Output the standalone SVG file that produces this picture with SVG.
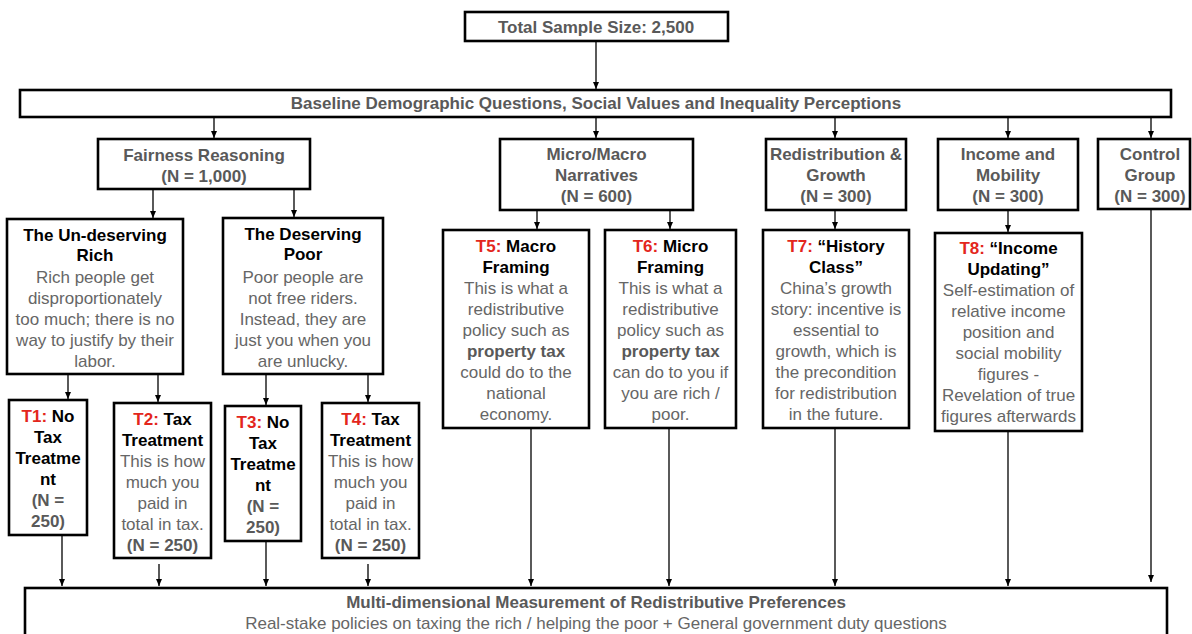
<svg xmlns="http://www.w3.org/2000/svg" width="1192" height="634" viewBox="0 0 1192 634">
<style>
.box{fill:#fff;stroke:#000;stroke-width:2.6}
text{font-family:"Liberation Sans",Arial,Helvetica,sans-serif;font-size:17px;text-anchor:middle}
.g{fill:#666666}
.gb{fill:#595959;font-weight:bold}
.b{fill:#000;font-weight:bold}
.r{fill:#e3261c;font-weight:bold}
.con line{stroke:#000;stroke-width:1.3;marker-end:url(#ah)}
</style>
<defs>
<marker id="ah" markerUnits="userSpaceOnUse" markerWidth="8" markerHeight="6" refX="7" refY="3" orient="auto">
<path d="M0,0 L7,3 L0,6 z" fill="#000"/>
</marker>
</defs>
<rect width="1192" height="634" fill="#fff"/>

<g id="total">
<rect class="box" x="465" y="12" width="263" height="29"/>
<text class="gb" x="596" y="33">Total Sample Size: 2,500</text>
</g>

<g id="baseline">
<rect class="box" x="20" y="90" width="1151" height="27"/>
<text class="gb" x="596" y="109">Baseline Demographic Questions, Social Values and Inequality Perceptions</text>
</g>

<g id="fairness">
<rect class="box" x="98" y="139" width="212" height="50"/>
<text class="gb" x="204" y="161">Fairness Reasoning</text>
<text class="gb" x="204" y="182">(N = 1,000)</text>
</g>

<g id="micromacro">
<rect class="box" x="500" y="139" width="193" height="71"/>
<text class="gb" x="596.5" y="160">Micro/Macro</text>
<text class="gb" x="596.5" y="181">Narratives</text>
<text class="gb" x="596.5" y="202">(N = 600)</text>
</g>

<g id="redistribution">
<rect class="box" x="766" y="139" width="140" height="71"/>
<text class="gb" x="836" y="160">Redistribution &amp;</text>
<text class="gb" x="836" y="181">Growth</text>
<text class="gb" x="836" y="202">(N = 300)</text>
</g>

<g id="income">
<rect class="box" x="938" y="139" width="140" height="71"/>
<text class="gb" x="1008" y="160">Income and</text>
<text class="gb" x="1008" y="181">Mobility</text>
<text class="gb" x="1008" y="202">(N = 300)</text>
</g>

<g id="control">
<rect class="box" x="1098" y="139" width="92" height="70"/>
<text class="gb" x="1150" y="160">Control</text>
<text class="gb" x="1150" y="181">Group</text>
<text class="gb" x="1150" y="202">(N = 300)</text>
</g>

<g id="undeserving">
<rect class="box" x="7" y="219" width="176" height="155"/>
<text class="b" x="95" y="241">The Un-deserving</text>
<text class="b" x="95" y="261">Rich</text>
<text class="g" x="95" y="283">Rich people get</text>
<text class="g" x="95" y="304">disproportionately</text>
<text class="g" x="95" y="325">too much; there is no</text>
<text class="g" x="95" y="346">way to justify by their</text>
<text class="g" x="95" y="367">labor.</text>
</g>

<g id="deservingpoor">
<rect class="box" x="223" y="218" width="160" height="156"/>
<text class="b" x="303" y="240">The Deserving</text>
<text class="b" x="303" y="260">Poor</text>
<text class="g" x="303" y="283">Poor people are</text>
<text class="g" x="303" y="304">not free riders.</text>
<text class="g" x="303" y="325">Instead, they are</text>
<text class="g" x="303" y="346">just you when you</text>
<text class="g" x="303" y="367">are unlucky.</text>
</g>

<g id="t1">
<rect class="box" x="9" y="400" width="78" height="135"/>
<text class="b" x="48" y="422"><tspan class="r">T1:</tspan> No</text>
<text class="b" x="48" y="443">Tax</text>
<text class="b" x="48" y="464">Treatme</text>
<text class="b" x="48" y="485">nt</text>
<text class="gb" x="48" y="506">(N =</text>
<text class="gb" x="48" y="527">250)</text>
</g>

<g id="t2">
<rect class="box" x="114" y="403" width="97" height="155"/>
<text class="b" x="162.5" y="425"><tspan class="r">T2:</tspan> Tax</text>
<text class="b" x="162.5" y="446">Treatment</text>
<text class="g" x="162.5" y="467">This is how</text>
<text class="g" x="162.5" y="488">much you</text>
<text class="g" x="162.5" y="509">paid in</text>
<text class="g" x="162.5" y="530">total in tax.</text>
<text class="gb" x="162.5" y="551">(N = 250)</text>
</g>

<g id="t3">
<rect class="box" x="225" y="406" width="76" height="135"/>
<text class="b" x="263" y="428"><tspan class="r">T3:</tspan> No</text>
<text class="b" x="263" y="449">Tax</text>
<text class="b" x="263" y="470">Treatme</text>
<text class="b" x="263" y="491">nt</text>
<text class="gb" x="263" y="512">(N =</text>
<text class="gb" x="263" y="533">250)</text>
</g>

<g id="t4">
<rect class="box" x="322" y="403" width="97" height="155"/>
<text class="b" x="370.5" y="425"><tspan class="r">T4:</tspan> Tax</text>
<text class="b" x="370.5" y="446">Treatment</text>
<text class="g" x="370.5" y="467">This is how</text>
<text class="g" x="370.5" y="488">much you</text>
<text class="g" x="370.5" y="509">paid in</text>
<text class="g" x="370.5" y="530">total in tax.</text>
<text class="gb" x="370.5" y="551">(N = 250)</text>
</g>

<g id="t5">
<rect class="box" x="443" y="230" width="146" height="198"/>
<text class="b" x="516" y="252"><tspan class="r">T5:</tspan> Macro</text>
<text class="b" x="516" y="273">Framing</text>
<text class="g" x="516" y="294">This is what a</text>
<text class="g" x="516" y="315">redistributive</text>
<text class="g" x="516" y="336">policy such as</text>
<text class="gb" x="516" y="357">property tax</text>
<text class="g" x="516" y="378">could do to the</text>
<text class="g" x="516" y="399">national</text>
<text class="g" x="516" y="420">economy.</text>
</g>

<g id="t6">
<rect class="box" x="605" y="230" width="131" height="198"/>
<text class="b" x="670.5" y="252"><tspan class="r">T6:</tspan> Micro</text>
<text class="b" x="670.5" y="273">Framing</text>
<text class="g" x="670.5" y="294">This is what a</text>
<text class="g" x="670.5" y="315">redistributive</text>
<text class="g" x="670.5" y="336">policy such as</text>
<text class="gb" x="670.5" y="357">property tax</text>
<text class="g" x="670.5" y="378">can do to you if</text>
<text class="g" x="670.5" y="399">you are rich /</text>
<text class="g" x="670.5" y="420">poor.</text>
</g>

<g id="t7">
<rect class="box" x="763" y="230" width="146" height="198"/>
<text class="b" x="836" y="252"><tspan class="r">T7:</tspan> “History</text>
<text class="b" x="836" y="273">Class”</text>
<text class="g" x="836" y="294">China’s growth</text>
<text class="g" x="836" y="315">story: incentive is</text>
<text class="g" x="836" y="336">essential to</text>
<text class="g" x="836" y="357">growth, which is</text>
<text class="g" x="836" y="378">the precondition</text>
<text class="g" x="836" y="399">for redistribution</text>
<text class="g" x="836" y="420">in the future.</text>
</g>

<g id="t8">
<rect class="box" x="935" y="233" width="147" height="198"/>
<text class="b" x="1008.5" y="254"><tspan class="r">T8:</tspan> “Income</text>
<text class="b" x="1008.5" y="275">Updating”</text>
<text class="g" x="1008.5" y="296">Self-estimation of</text>
<text class="g" x="1008.5" y="317">relative income</text>
<text class="g" x="1008.5" y="338">position and</text>
<text class="g" x="1008.5" y="359">social mobility</text>
<text class="g" x="1008.5" y="380">figures -</text>
<text class="g" x="1008.5" y="401">Revelation of true</text>
<text class="g" x="1008.5" y="422">figures afterwards</text>
</g>

<g id="measurement">
<rect class="box" x="25" y="588" width="1142" height="70"/>
<text class="gb" x="596" y="608">Multi-dimensional Measurement of Redistributive Preferences</text>
<text class="g" x="596" y="629">Real-stake policies on taxing the rich / helping the poor + General government duty questions</text>
</g>

<g id="connectors" class="con">
<line x1="596" y1="42" x2="596" y2="89"/>
<line x1="214" y1="118" x2="214" y2="138"/>
<line x1="596" y1="118" x2="596" y2="138"/>
<line x1="835" y1="118" x2="835" y2="138"/>
<line x1="1008" y1="118" x2="1008" y2="138"/>
<line x1="1151" y1="118" x2="1151" y2="138"/>
<line x1="153" y1="190" x2="153" y2="218"/>
<line x1="294" y1="190" x2="294" y2="217"/>
<line x1="537" y1="211" x2="537" y2="229"/>
<line x1="670" y1="211" x2="670" y2="229"/>
<line x1="835" y1="211" x2="835" y2="229"/>
<line x1="1008" y1="211" x2="1008" y2="232"/>
<line x1="68" y1="375" x2="68" y2="399"/>
<line x1="158" y1="375" x2="158" y2="402"/>
<line x1="266" y1="375" x2="266" y2="405"/>
<line x1="368" y1="375" x2="368" y2="402"/>
<line x1="62" y1="536" x2="62" y2="586"/>
<line x1="159" y1="564" x2="159" y2="586"/>
<line x1="266" y1="542" x2="266" y2="586"/>
<line x1="368" y1="564" x2="368" y2="586"/>
<line x1="531" y1="429" x2="531" y2="586"/>
<line x1="669" y1="429" x2="669" y2="586"/>
<line x1="835" y1="429" x2="835" y2="586"/>
<line x1="1008" y1="432" x2="1008" y2="586"/>
<line x1="1151" y1="210" x2="1151" y2="582"/>
</g>
</svg>
